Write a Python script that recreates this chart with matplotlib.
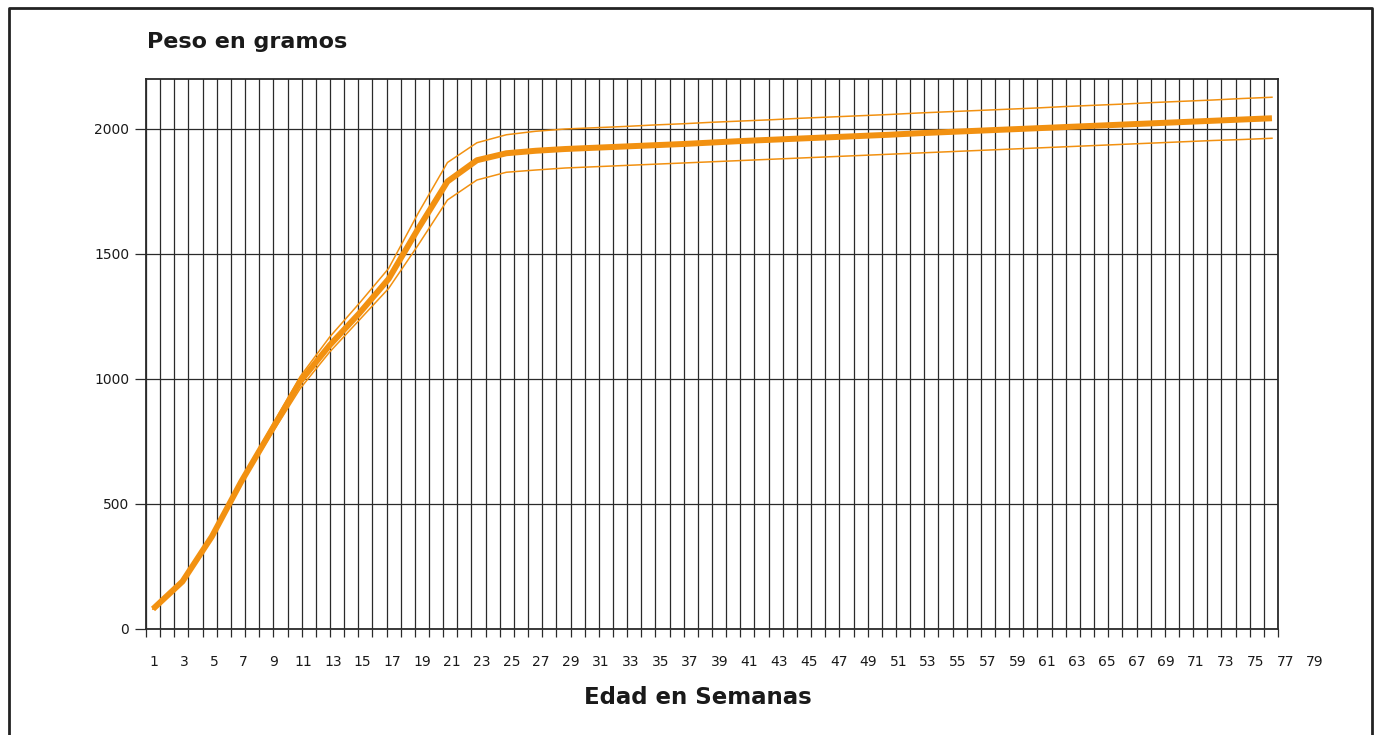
import matplotlib
matplotlib.use("Agg")
import matplotlib.pyplot as plt
from matplotlib.lines import Line2D
from matplotlib.transforms import blended_transform_factory
import numpy as np

plt.rcParams["font.family"] = ["DejaVu Sans"]

# weeks at which the curves are sampled (every second week)
weeks = list(range(1, 78, 2))

peso_medio = [80, 190, 370, 590, 790, 990, 1135, 1262, 1400, 1600,
              1790, 1875, 1903, 1913, 1920, 1925, 1930, 1935, 1940, 1946,
              1952, 1957, 1962, 1967, 1972, 1977, 1983, 1988, 1993, 1998,
              2003, 2008, 2013, 2018, 2023, 2028, 2033, 2038, 2043]

peso_max = [80, 192, 372, 597, 805, 1010, 1168, 1302, 1442, 1662,
            1866, 1945, 1977, 1991, 2000, 2005, 2010, 2016, 2021, 2027,
            2032, 2037, 2043, 2048, 2053, 2058, 2064, 2069, 2074, 2079,
            2084, 2090, 2095, 2100, 2106, 2111, 2116, 2122, 2127]

peso_min = [80, 186, 366, 583, 775, 962, 1108, 1235, 1362, 1535,
            1716, 1796, 1827, 1836, 1844, 1849, 1854, 1859, 1864, 1869,
            1874, 1879, 1884, 1889, 1894, 1899, 1904, 1909, 1914, 1919,
            1924, 1929, 1934, 1939, 1944, 1949, 1954, 1958, 1963]

label_weeks = list(range(1, 80, 2))
x_labels = [str(w) for w in label_weeks]

y_ticks = [0, 500, 1000, 1500, 2000]
n_cells = 80

ORANGE = "#F29111"
GRID = "#2a2a2a"
TXT = "#1a1a1a"

fig = plt.figure(figsize=(13.77, 7.35), dpi=100)
ax = fig.add_axes([146 / 1377, 1 - 629 / 735, 1132 / 1377, 550 / 735])

# category grid
ax.set_xlim(0, n_cells)
ax.set_ylim(0, 2200)
ax.set_xticks(np.arange(0, n_cells + 1))
ax.set_xticklabels([])
ax.set_yticks(y_ticks)
ax.set_yticklabels([str(v) for v in y_ticks], fontsize=10, color=TXT)
ax.tick_params(axis="x", direction="out", length=6, width=0.9, color=GRID)
ax.tick_params(axis="y", direction="out", length=8, width=0.9, color=GRID, pad=4)
ax.grid(True, color=GRID, linewidth=0.9)
ax.set_axisbelow(True)
for sp in ax.spines.values():
    sp.set_color(GRID)
    sp.set_linewidth(1.3)

# data axis
ax_d = ax.twiny()
ax_d.set_xlim(0.525, 77.41)
ax_d.set_ylim(0, 2200)
ax_d.axis("off")
ax_d.plot(weeks, peso_max, color=ORANGE, lw=1.1)
ax_d.plot(weeks, peso_min, color=ORANGE, lw=1.1)
ax_d.plot(weeks, peso_medio, color=ORANGE, lw=4.3, solid_capstyle="butt")

# week labels (offset from the grid, as in the original)
ax_l = ax.twiny()
ax_l.set_xlim(0.442, 76.52)
ax_l.axis("off")
trans = blended_transform_factory(ax_l.transData, ax_l.transAxes)
for w, lab in zip(label_weeks, x_labels):
    ax_l.text(w, -0.06, lab, transform=trans, ha="center", va="center",
              fontsize=10, color=TXT, clip_on=False)

fig.text(147 / 1377, 1 - 42 / 735, "Peso en gramos", fontsize=16,
         fontweight="bold", color=TXT, ha="left", va="center")
fig.text(698 / 1377, 1 - 698 / 735, "Edad en Semanas", fontsize=16.5,
         fontweight="bold", color=TXT, ha="center", va="center")

# outer frame
fig.add_artist(Line2D([8.5 / 1377, 8.5 / 1377, 1372 / 1377, 1372 / 1377],
                      [0, 1 - 8 / 735, 1 - 8 / 735, 0],
                      transform=fig.transFigure, color="#222222", lw=2.0))

fig.savefig("out.png", dpi=100)
